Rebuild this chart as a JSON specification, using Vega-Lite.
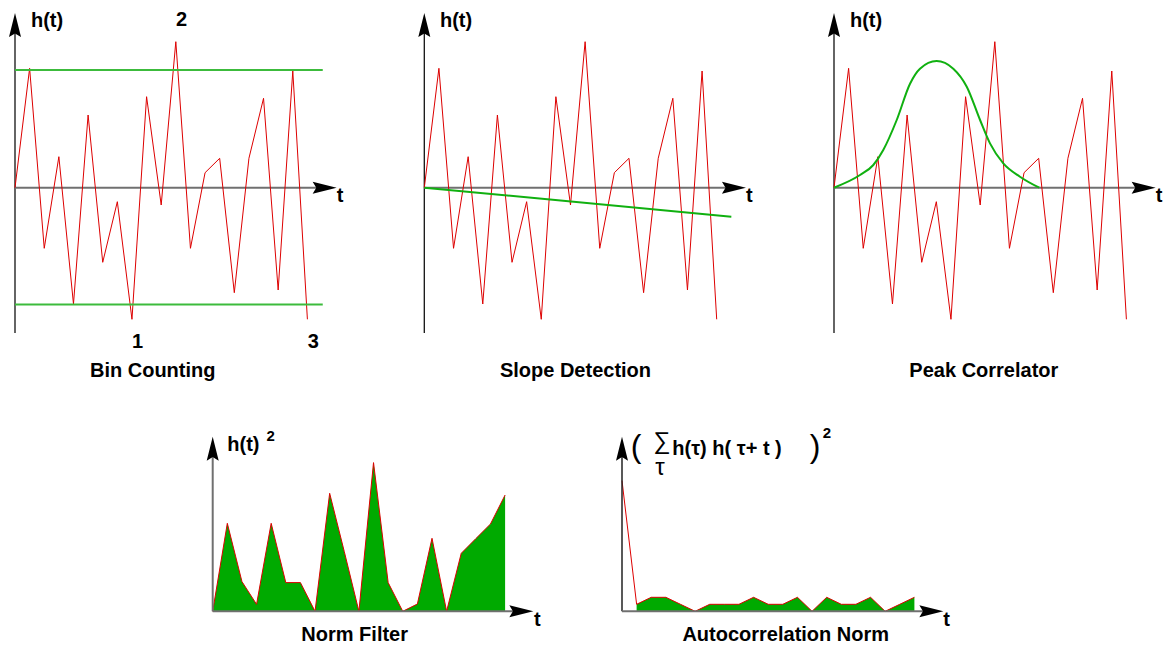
{
  "$schema": "https://vega.github.io/schema/vega-lite/v6.json",
  "padding": 0,
  "spacing": 0,
  "config": {
    "view": {"stroke": null},
    "axis": {"disable": true},
    "text": {"font": "Liberation Sans", "fontWeight": "bold", "fontSize": 20, "color": "black", "baseline": "middle"}
  },
  "datasets": {
    "sig": [
      {"t": 0, "h": 0}, {"t": 1, "h": 11.94}, {"t": 2, "h": -6.06}, {"t": 3, "h": 3.1},
      {"t": 4, "h": -11.63}, {"t": 5, "h": 7.27}, {"t": 6, "h": -7.46}, {"t": 7, "h": -1.4},
      {"t": 8, "h": -13.16}, {"t": 9, "h": 9.1}, {"t": 10, "h": -1.73}, {"t": 11, "h": 14.6},
      {"t": 12, "h": -6.06}, {"t": 13, "h": 1.5}, {"t": 14, "h": 2.94}, {"t": 15, "h": -10.5},
      {"t": 16, "h": 2.94}, {"t": 17, "h": 8.94}, {"t": 18, "h": -10.23}, {"t": 19, "h": 11.67},
      {"t": 20, "h": -13.16}
    ],
    "norm": [
      {"t": 0, "h": 0}, {"t": 1, "h": 8.8}, {"t": 2, "h": 2.97}, {"t": 3, "h": 0.7},
      {"t": 4, "h": 8.8}, {"t": 5, "h": 2.87}, {"t": 6, "h": 2.87}, {"t": 7, "h": 0},
      {"t": 8, "h": 11.8}, {"t": 9, "h": 5.97}, {"t": 10, "h": 0}, {"t": 11, "h": 14.87},
      {"t": 12, "h": 2.87}, {"t": 13, "h": 0}, {"t": 14, "h": 0.73}, {"t": 15, "h": 7.3},
      {"t": 16, "h": 0}, {"t": 17, "h": 5.8}, {"t": 18, "h": 7.27}, {"t": 19, "h": 8.73},
      {"t": 20, "h": 11.63}
    ],
    "acorr": [
      {"t": 0, "h": 13.07}, {"t": 1, "h": 0.7}, {"t": 2, "h": 1.4}, {"t": 3, "h": 1.4},
      {"t": 4, "h": 0.7}, {"t": 5, "h": 0}, {"t": 6, "h": 0.7}, {"t": 7, "h": 0.7},
      {"t": 8, "h": 0.7}, {"t": 9, "h": 1.4}, {"t": 10, "h": 0.7}, {"t": 11, "h": 0.7},
      {"t": 12, "h": 1.4}, {"t": 13, "h": 0}, {"t": 14, "h": 1.4}, {"t": 15, "h": 0.7},
      {"t": 16, "h": 0.7}, {"t": 17, "h": 1.4}, {"t": 18, "h": 0}, {"t": 19, "h": 0.7},
      {"t": 20, "h": 1.4}
    ],
    "gauss": [
      {"t": 0, "h": 0}, {"t": 1.78, "h": 1.27}, {"t": 2.69, "h": 2.27}, {"t": 3.37, "h": 3.77},
      {"t": 4.29, "h": 6.77}, {"t": 5.2, "h": 10.4}, {"t": 5.88, "h": 11.9}, {"t": 7.02, "h": 12.67},
      {"t": 8.16, "h": 11.9}, {"t": 9.08, "h": 10.1}, {"t": 9.99, "h": 6.77}, {"t": 10.67, "h": 4.43},
      {"t": 11.58, "h": 2.43}, {"t": 12.72, "h": 1.1}, {"t": 14.04, "h": 0}
    ]
  },
  "vconcat": [
    {
      "spacing": 0,
      "bounds": "flush",
      "hconcat": [
        {
          "width": 409,
          "height": 400,
          "layer": [
            {
              "data": {"values": [{}]},
              "mark": {"type": "rule", "color": "#111111", "strokeWidth": 1.3},
              "encoding": {
                "x": {"datum": 0, "type": "quantitative", "scale": {"domain": [-1.026, 26.949], "nice": false, "zero": false}, "axis": null},
                "y": {"datum": -14.53, "type": "quantitative", "scale": {"domain": [-21.23, 18.77], "nice": false, "zero": false}, "axis": null},
                "y2": {"datum": 16.27}
              }
            },
            {
              "data": {"values": [{}]},
              "mark": {"type": "rule", "color": "#707070", "strokeWidth": 2},
              "encoding": {"x": {"datum": 0, "type": "quantitative"}, "x2": {"datum": 21.18}, "y": {"datum": 0, "type": "quantitative"}}
            },
            {
              "data": {"name": "sig"},
              "mark": {"type": "line", "color": "#dd0000", "strokeWidth": 1},
              "encoding": {"x": {"field": "t", "type": "quantitative"}, "y": {"field": "h", "type": "quantitative"}}
            },
            {
              "data": {"values": [{"t0": 0, "t1": 21.05, "h": 11.77}, {"t0": 0, "t1": 21.05, "h": -11.67}]},
              "mark": {"type": "rule", "color": "#3cbb3c", "strokeWidth": 2},
              "encoding": {"x": {"field": "t0", "type": "quantitative"}, "x2": {"field": "t1"}, "y": {"field": "h", "type": "quantitative"}}
            },
            {
              "data": {"values": [{}]},
              "mark": {"type": "point", "shape": "M0,-1L0.5,1L0,0.7L-0.5,1Z", "size": 576, "filled": true, "color": "black", "opacity": 1, "strokeWidth": 0},
              "encoding": {"x": {"datum": 0, "type": "quantitative"}, "y": {"datum": 16.27, "type": "quantitative"}}
            },
            {
              "data": {"values": [{}]},
              "mark": {"type": "point", "shape": "M0,-1L0.5,1L0,0.7L-0.5,1Z", "size": 576, "filled": true, "color": "black", "opacity": 1, "strokeWidth": 0, "angle": 90},
              "encoding": {"x": {"datum": 21.18, "type": "quantitative"}, "y": {"datum": 0, "type": "quantitative"}}
            },
            {
              "data": {"values": [{"t": 1.09, "h": 16.67, "label": "h(t)"}]},
              "mark": {"type": "text", "align": "left"},
              "encoding": {"x": {"field": "t", "type": "quantitative"}, "y": {"field": "h", "type": "quantitative"}, "text": {"field": "label"}}
            },
            {
              "data": {"values": [
                {"t": 22.23, "h": -0.85, "label": "t"},
                {"t": 11.4, "h": 16.77, "label": "2"},
                {"t": 8.39, "h": -15.4, "label": "1"},
                {"t": 20.4, "h": -15.4, "label": "3"},
                {"t": 9.42, "h": -18.3, "label": "Bin Counting"}
              ]},
              "mark": {"type": "text", "align": "center"},
              "encoding": {"x": {"field": "t", "type": "quantitative"}, "y": {"field": "h", "type": "quantitative"}, "text": {"field": "label"}}
            }
          ]
        },
        {
          "width": 409,
          "height": 400,
          "layer": [
            {
              "data": {"values": [{}]},
              "mark": {"type": "rule", "color": "#111111", "strokeWidth": 1.3},
              "encoding": {
                "x": {"datum": 0, "type": "quantitative", "scale": {"domain": [-1.0465, 26.929], "nice": false, "zero": false}, "axis": null},
                "y": {"datum": -14.53, "type": "quantitative", "scale": {"domain": [-21.23, 18.77], "nice": false, "zero": false}, "axis": null},
                "y2": {"datum": 16.27}
              }
            },
            {
              "data": {"values": [{}]},
              "mark": {"type": "rule", "color": "#707070", "strokeWidth": 2},
              "encoding": {"x": {"datum": 0, "type": "quantitative"}, "x2": {"datum": 21.18}, "y": {"datum": 0, "type": "quantitative"}}
            },
            {
              "data": {"name": "sig"},
              "mark": {"type": "line", "color": "#dd0000", "strokeWidth": 1},
              "encoding": {"x": {"field": "t", "type": "quantitative"}, "y": {"field": "h", "type": "quantitative"}}
            },
            {
              "data": {"values": [{"t0": 0, "h0": 0, "t1": 21.0, "h1": -2.9}]},
              "mark": {"type": "rule", "color": "#10b010", "strokeWidth": 2},
              "encoding": {"x": {"field": "t0", "type": "quantitative"}, "x2": {"field": "t1"}, "y": {"field": "h0", "type": "quantitative"}, "y2": {"field": "h1"}}
            },
            {
              "data": {"values": [{}]},
              "mark": {"type": "point", "shape": "M0,-1L0.5,1L0,0.7L-0.5,1Z", "size": 576, "filled": true, "color": "black", "opacity": 1, "strokeWidth": 0},
              "encoding": {"x": {"datum": 0, "type": "quantitative"}, "y": {"datum": 16.27, "type": "quantitative"}}
            },
            {
              "data": {"values": [{}]},
              "mark": {"type": "point", "shape": "M0,-1L0.5,1L0,0.7L-0.5,1Z", "size": 576, "filled": true, "color": "black", "opacity": 1, "strokeWidth": 0, "angle": 90},
              "encoding": {"x": {"datum": 21.18, "type": "quantitative"}, "y": {"datum": 0, "type": "quantitative"}}
            },
            {
              "data": {"values": [{"t": 1.07, "h": 16.67, "label": "h(t)"}]},
              "mark": {"type": "text", "align": "left"},
              "encoding": {"x": {"field": "t", "type": "quantitative"}, "y": {"field": "h", "type": "quantitative"}, "text": {"field": "label"}}
            },
            {
              "data": {"values": [
                {"t": 22.23, "h": -0.85, "label": "t"},
                {"t": 10.34, "h": -18.3, "label": "Slope Detection"}
              ]},
              "mark": {"type": "text", "align": "center"},
              "encoding": {"x": {"field": "t", "type": "quantitative"}, "y": {"field": "h", "type": "quantitative"}, "text": {"field": "label"}}
            }
          ]
        },
        {
          "width": 349,
          "height": 400,
          "layer": [
            {
              "data": {"values": [{}]},
              "mark": {"type": "rule", "color": "#111111", "strokeWidth": 1.3},
              "encoding": {
                "x": {"datum": 0, "type": "quantitative", "scale": {"domain": [-1.0944, 22.777], "nice": false, "zero": false}, "axis": null},
                "y": {"datum": -14.53, "type": "quantitative", "scale": {"domain": [-21.23, 18.77], "nice": false, "zero": false}, "axis": null},
                "y2": {"datum": 16.27}
              }
            },
            {
              "data": {"values": [{}]},
              "mark": {"type": "rule", "color": "#707070", "strokeWidth": 2},
              "encoding": {"x": {"datum": 0, "type": "quantitative"}, "x2": {"datum": 21.18}, "y": {"datum": 0, "type": "quantitative"}}
            },
            {
              "data": {"name": "sig"},
              "mark": {"type": "line", "color": "#dd0000", "strokeWidth": 1},
              "encoding": {"x": {"field": "t", "type": "quantitative"}, "y": {"field": "h", "type": "quantitative"}}
            },
            {
              "data": {"name": "gauss"},
              "mark": {"type": "line", "color": "#10b010", "strokeWidth": 2, "interpolate": "monotone"},
              "encoding": {"x": {"field": "t", "type": "quantitative"}, "y": {"field": "h", "type": "quantitative"}}
            },
            {
              "data": {"values": [{}]},
              "mark": {"type": "point", "shape": "M0,-1L0.5,1L0,0.7L-0.5,1Z", "size": 576, "filled": true, "color": "black", "opacity": 1, "strokeWidth": 0},
              "encoding": {"x": {"datum": 0, "type": "quantitative"}, "y": {"datum": 16.27, "type": "quantitative"}}
            },
            {
              "data": {"values": [{}]},
              "mark": {"type": "point", "shape": "M0,-1L0.5,1L0,0.7L-0.5,1Z", "size": 576, "filled": true, "color": "black", "opacity": 1, "strokeWidth": 0, "angle": 90},
              "encoding": {"x": {"datum": 21.18, "type": "quantitative"}, "y": {"datum": 0, "type": "quantitative"}}
            },
            {
              "data": {"values": [{"t": 1.09, "h": 16.67, "label": "h(t)"}]},
              "mark": {"type": "text", "align": "left"},
              "encoding": {"x": {"field": "t", "type": "quantitative"}, "y": {"field": "h", "type": "quantitative"}, "text": {"field": "label"}}
            },
            {
              "data": {"values": [
                {"t": 22.23, "h": -0.85, "label": "t"},
                {"t": 10.25, "h": -18.3, "label": "Peak Correlator"}
              ]},
              "mark": {"type": "text", "align": "center"},
              "encoding": {"x": {"field": "t", "type": "quantitative"}, "y": {"field": "h", "type": "quantitative"}, "text": {"field": "label"}}
            }
          ]
        }
      ]
    },
    {
      "spacing": 0,
      "bounds": "flush",
      "hconcat": [
        {
          "width": 600,
          "height": 245,
          "layer": [
            {
              "data": {"name": "norm"},
              "mark": {"type": "area", "color": "#00aa00", "opacity": 1},
              "encoding": {
                "x": {"field": "t", "type": "quantitative", "scale": {"domain": [-14.549, 26.491], "nice": false, "zero": false}, "axis": null},
                "y": {"field": "h", "type": "quantitative", "scale": {"domain": [-3.37, 21.13], "nice": false, "zero": false}, "axis": null},
                "y2": {"datum": 0}
              }
            },
            {
              "data": {"name": "norm"},
              "mark": {"type": "line", "color": "#dd0000", "strokeWidth": 1},
              "encoding": {"x": {"field": "t", "type": "quantitative"}, "y": {"field": "h", "type": "quantitative"}}
            },
            {
              "data": {"values": [{}]},
              "mark": {"type": "rule", "color": "#707070", "strokeWidth": 2},
              "encoding": {"x": {"datum": 0, "type": "quantitative"}, "y": {"datum": 0, "type": "quantitative"}, "y2": {"datum": 16.26}}
            },
            {
              "data": {"values": [{}]},
              "mark": {"type": "rule", "color": "#707070", "strokeWidth": 2},
              "encoding": {"x": {"datum": 0, "type": "quantitative"}, "x2": {"datum": 21.11}, "y": {"datum": 0, "type": "quantitative"}}
            },
            {
              "data": {"values": [{}]},
              "mark": {"type": "point", "shape": "M0,-1L0.5,1L0,0.7L-0.5,1Z", "size": 576, "filled": true, "color": "black", "opacity": 1, "strokeWidth": 0},
              "encoding": {"x": {"datum": 0, "type": "quantitative"}, "y": {"datum": 16.26, "type": "quantitative"}}
            },
            {
              "data": {"values": [{}]},
              "mark": {"type": "point", "shape": "M0,-1L0.5,1L0,0.7L-0.5,1Z", "size": 576, "filled": true, "color": "black", "opacity": 1, "strokeWidth": 0, "angle": 90},
              "encoding": {"x": {"datum": 21.11, "type": "quantitative"}, "y": {"datum": 0, "type": "quantitative"}}
            },
            {
              "data": {"values": [{"t": 1.0, "h": 16.63, "label": "h(t)"}]},
              "mark": {"type": "text", "align": "left"},
              "encoding": {"x": {"field": "t", "type": "quantitative"}, "y": {"field": "h", "type": "quantitative"}, "text": {"field": "label"}}
            },
            {
              "data": {"values": [{"t": 3.97, "h": 17.55, "label": "2"}]},
              "mark": {"type": "text", "align": "center", "fontSize": 15},
              "encoding": {"x": {"field": "t", "type": "quantitative"}, "y": {"field": "h", "type": "quantitative"}, "text": {"field": "label"}}
            },
            {
              "data": {"values": [
                {"t": 22.2, "h": -0.84, "label": "t"},
                {"t": 9.71, "h": -2.32, "label": "Norm Filter"}
              ]},
              "mark": {"type": "text", "align": "center"},
              "encoding": {"x": {"field": "t", "type": "quantitative"}, "y": {"field": "h", "type": "quantitative"}, "text": {"field": "label"}}
            }
          ]
        },
        {
          "width": 567,
          "height": 245,
          "layer": [
            {
              "data": {"name": "acorr"},
              "transform": [{"filter": "datum.t >= 1"}],
              "mark": {"type": "area", "color": "#00aa00", "opacity": 1},
              "encoding": {
                "x": {"field": "t", "type": "quantitative", "scale": {"domain": [-1.5048, 37.278], "nice": false, "zero": false}, "axis": null},
                "y": {"field": "h", "type": "quantitative", "scale": {"domain": [-3.37, 21.13], "nice": false, "zero": false}, "axis": null},
                "y2": {"datum": 0}
              }
            },
            {
              "data": {"name": "acorr"},
              "mark": {"type": "line", "color": "#dd0000", "strokeWidth": 1},
              "encoding": {"x": {"field": "t", "type": "quantitative"}, "y": {"field": "h", "type": "quantitative"}}
            },
            {
              "data": {"values": [{}]},
              "mark": {"type": "rule", "color": "#222222", "strokeWidth": 1.5},
              "encoding": {"x": {"datum": 0, "type": "quantitative"}, "y": {"datum": 0, "type": "quantitative"}, "y2": {"datum": 16.26}}
            },
            {
              "data": {"values": [{}]},
              "mark": {"type": "rule", "color": "#707070", "strokeWidth": 2},
              "encoding": {"x": {"datum": 0, "type": "quantitative"}, "x2": {"datum": 21.16}, "y": {"datum": 0, "type": "quantitative"}}
            },
            {
              "data": {"values": [{}]},
              "mark": {"type": "point", "shape": "M0,-1L0.5,1L0,0.7L-0.5,1Z", "size": 576, "filled": true, "color": "black", "opacity": 1, "strokeWidth": 0},
              "encoding": {"x": {"datum": 0, "type": "quantitative"}, "y": {"datum": 16.26, "type": "quantitative"}}
            },
            {
              "data": {"values": [{}]},
              "mark": {"type": "point", "shape": "M0,-1L0.5,1L0,0.7L-0.5,1Z", "size": 576, "filled": true, "color": "black", "opacity": 1, "strokeWidth": 0, "angle": 90},
              "encoding": {"x": {"datum": 21.16, "type": "quantitative"}, "y": {"datum": 0, "type": "quantitative"}}
            },
            {
              "data": {"values": [
                {"t": 0.96, "h": 16.43, "label": "("},
                {"t": 13.2, "h": 16.43, "label": ")"}
              ]},
              "mark": {"type": "text", "align": "center", "fontSize": 32, "fontWeight": "normal"},
              "encoding": {"x": {"field": "t", "type": "quantitative"}, "y": {"field": "h", "type": "quantitative"}, "text": {"field": "label"}}
            },
            {
              "data": {"values": [{"t": 2.72, "h": 16.98, "label": "∑"}]},
              "mark": {"type": "text", "align": "center", "fontSize": 24, "fontWeight": "normal"},
              "encoding": {"x": {"field": "t", "type": "quantitative"}, "y": {"field": "h", "type": "quantitative"}, "text": {"field": "label"}}
            },
            {
              "data": {"values": [{"t": 2.6, "h": 14.33, "label": "τ"}]},
              "mark": {"type": "text", "align": "center", "fontSize": 24, "fontWeight": "normal"},
              "encoding": {"x": {"field": "t", "type": "quantitative"}, "y": {"field": "h", "type": "quantitative"}, "text": {"field": "label"}}
            },
            {
              "data": {"values": [{"t": 3.44, "h": 16.23, "label": "h(τ) h( τ+ t )"}]},
              "mark": {"type": "text", "align": "left"},
              "encoding": {"x": {"field": "t", "type": "quantitative"}, "y": {"field": "h", "type": "quantitative"}, "text": {"field": "label"}}
            },
            {
              "data": {"values": [{"t": 14.02, "h": 17.88, "label": "2"}]},
              "mark": {"type": "text", "align": "center", "fontSize": 15},
              "encoding": {"x": {"field": "t", "type": "quantitative"}, "y": {"field": "h", "type": "quantitative"}, "text": {"field": "label"}}
            },
            {
              "data": {"values": [
                {"t": 22.2, "h": -0.84, "label": "t"},
                {"t": 11.2, "h": -2.32, "label": "Autocorrelation Norm"}
              ]},
              "mark": {"type": "text", "align": "center"},
              "encoding": {"x": {"field": "t", "type": "quantitative"}, "y": {"field": "h", "type": "quantitative"}, "text": {"field": "label"}}
            }
          ]
        }
      ]
    }
  ]
}
